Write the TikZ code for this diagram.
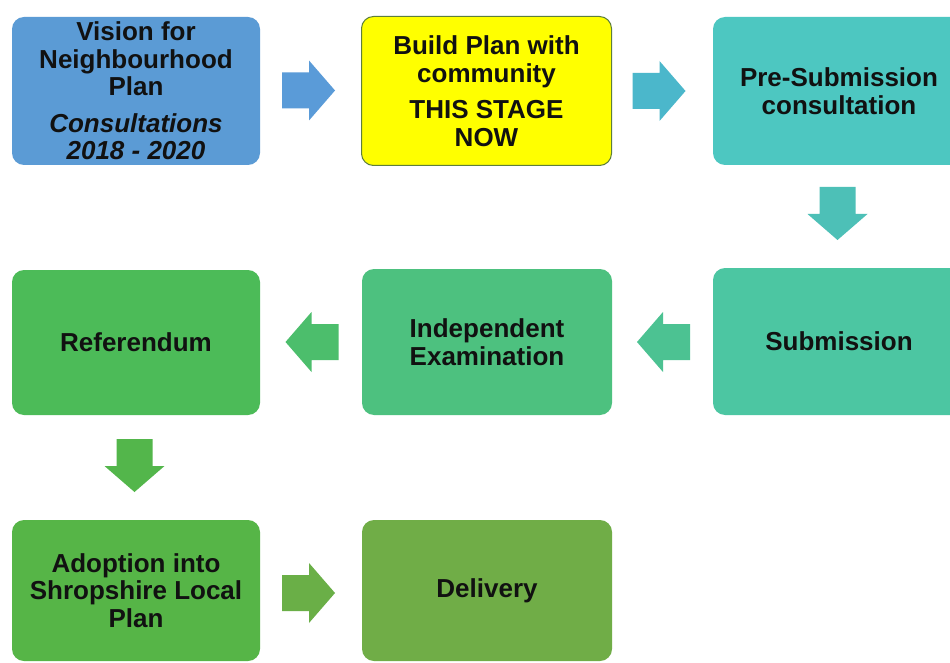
\documentclass[tikz,border=0pt]{standalone}
\usepackage{fontspec}
\setmainfont{Liberation Sans}
\definecolor{cBa}{HTML}{5B9BD5}
\definecolor{cAa}{HTML}{5A9BD8}
\definecolor{cBb}{HTML}{FFFF00}
\definecolor{cBbEdge}{HTML}{5E7F3C}
\definecolor{cAb}{HTML}{4BB7CB}
\definecolor{cBc}{HTML}{4DC7C1}
\definecolor{cAc}{HTML}{4DC0B7}
\definecolor{cBd}{HTML}{4CC6A2}
\definecolor{cAd}{HTML}{4CC292}
\definecolor{cBe}{HTML}{4DC17F}
\definecolor{cAe}{HTML}{4CBE6C}
\definecolor{cBf}{HTML}{4CBB58}
\definecolor{cAf}{HTML}{53B64B}
\definecolor{cBg}{HTML}{56B547}
\definecolor{cAg}{HTML}{6AAF47}
\definecolor{cBh}{HTML}{70AD47}
\definecolor{cTxt}{HTML}{111111}
\tikzset{
  stagebox/.style={rectangle, rounded corners=12pt, inner sep=0pt, align=center,
    text=cTxt, font=\fontsize{26}{27.5}\selectfont\bfseries},
}
\newcommand{\arrR}[2]{\fill[#2] ([shift={(-26.5,-18)}]#1) -- ([shift={(0.5,-18)}]#1) -- ([shift={(0.5,-30)}]#1) -- ([shift={(26.5,0)}]#1) -- ([shift={(0.5,30)}]#1) -- ([shift={(0.5,18)}]#1) -- ([shift={(-26.5,18)}]#1) -- cycle;}
\newcommand{\arrL}[2]{\fill[#2] ([shift={(26.5,-18)}]#1) -- ([shift={(-0.5,-18)}]#1) -- ([shift={(-0.5,-30)}]#1) -- ([shift={(-26.5,0)}]#1) -- ([shift={(-0.5,30)}]#1) -- ([shift={(-0.5,18)}]#1) -- ([shift={(26.5,18)}]#1) -- cycle;}
\newcommand{\arrD}[2]{\fill[#2] ([shift={(-18,-26.5)}]#1) -- ([shift={(-18,0.5)}]#1) -- ([shift={(-30,0.5)}]#1) -- ([shift={(0,26.5)}]#1) -- ([shift={(30,0.5)}]#1) -- ([shift={(18,0.5)}]#1) -- ([shift={(18,-26.5)}]#1) -- cycle;}
\begin{document}
\begin{tikzpicture}[x=1pt,y=-1pt]
\useasboundingbox (0,0) rectangle (950,663);
\clip (0,0) rectangle (950,663);
\fill[white] (0,0) rectangle (950,663);

\node[stagebox, fill=cBa, minimum width=248pt, minimum height=148pt] (vision) at (136,91)
  {Vision for\\Neighbourhood\\Plan\\[9pt]\textit{Consultations}\\\textit{2018 - 2020}};
\node[stagebox, fill=cBb, draw=cBbEdge, line width=1pt, minimum width=250pt, minimum height=149pt] (build) at (486.5,91)
  {Build Plan with\\community\\[9pt]THIS STAGE\\NOW};
\node[stagebox, fill=cBc, minimum width=252pt, minimum height=148pt] (presub) at (839,91)
  {Pre-Submission\\consultation};
\node[stagebox, fill=cBd, minimum width=252pt, minimum height=147pt] (sub) at (839,341.5)
  {Submission};
\node[stagebox, fill=cBe, minimum width=250pt, minimum height=146pt] (exam) at (487,342)
  {Independent\\Examination};
\node[stagebox, fill=cBf, minimum width=248pt, minimum height=145pt] (ref) at (136,342.5)
  {Referendum};
\node[stagebox, fill=cBg, minimum width=248pt, minimum height=141pt] (adopt) at (136,590.5)
  {Adoption into\\Shropshire Local\\Plan};
\node[stagebox, fill=cBh, minimum width=250pt, minimum height=141pt] (deliv) at (487,590.5)
  {Delivery};

\coordinate (a1) at (308.5,90.5);
\coordinate (a2) at (659,91);
\coordinate (a3) at (837.5,213.5);
\coordinate (a4) at (663.5,342);
\coordinate (a5) at (312,342);
\coordinate (a6) at (134.5,465.5);
\coordinate (a7) at (308.5,593);

\arrR{a1}{cAa}
\arrR{a2}{cAb}
\arrD{a3}{cAc}
\arrL{a4}{cAd}
\arrL{a5}{cAe}
\arrD{a6}{cAf}
\arrR{a7}{cAg}
\end{tikzpicture}
\end{document}
